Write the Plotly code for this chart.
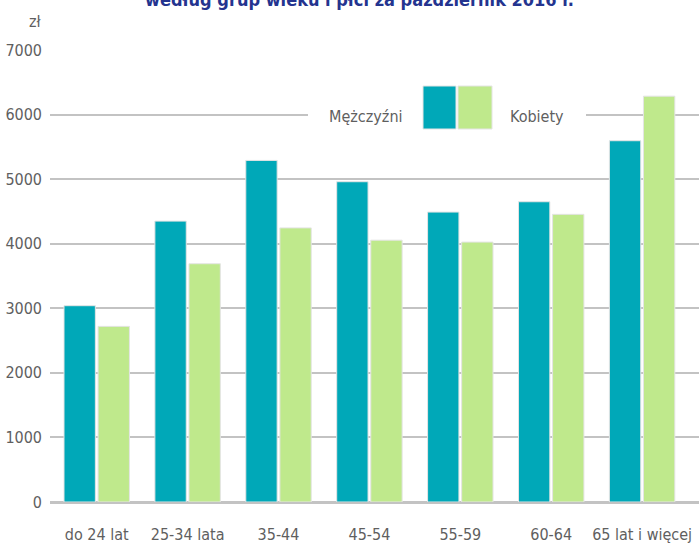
import plotly.graph_objects as go

categories = ["do 24 lat", "25-34 lata", "35-44", "45-54", "55-59", "60-64", "65 lat i więcej"]
series_names = ["Mężczyźni", "Kobiety"]
men = [3040, 4350, 5290, 4960, 4490, 4650, 5595]
women = [2720, 3690, 4245, 4055, 4025, 4455, 6285]
y_ticks = [0, 1000, 2000, 3000, 4000, 5000, 6000, 7000]
title_text = "według grup wieku i płci za październik 2016 r."
unit_text = "zł"

W, H = 699, 545
ML, MR, MT, MB = 50, 0, 50, 43
PW, PH = W - ML - MR, H - MT - MB

def px(x):
    return (x - ML) / PW

def py(y):
    return (H - MB - y) / PH

FONT = "DejaVu Sans Condensed, Liberation Sans Narrow, sans-serif"
GRAY = "#5f5f5f"
TEAL = "#00a8b8"
GREEN = "#bfe98c"
EDGE = "#e4e4e4"
FS = 16

fig = go.Figure()
fig.add_trace(go.Bar(x=categories, y=men, name=series_names[0], marker=dict(color=TEAL, line=dict(color=EDGE, width=1)), showlegend=False))
fig.add_trace(go.Bar(x=categories, y=women, name=series_names[1], marker=dict(color=GREEN, line=dict(color=EDGE, width=1)), showlegend=False))

fig.update_layout(
    width=W, height=H,
    margin=dict(l=ML, r=MR, t=MT, b=MB, pad=0),
    paper_bgcolor="white", plot_bgcolor="white",
    barmode="group", bargap=0.25, bargroupgap=0.08,
    font=dict(family=FONT, size=FS, color=GRAY),
    xaxis=dict(type="category", range=[-0.514, 6.626], showgrid=False, showline=False, automargin=False,
               tickangle=0, ticks="", tickfont=dict(size=FS, color=GRAY), ticklabelstandoff=21, fixedrange=True),
    yaxis=dict(range=[0, 7000], tickvals=y_ticks, ticktext=[str(v) for v in y_ticks], automargin=False,
               showgrid=True, gridcolor="#c3c3c3", gridwidth=2,
               zeroline=True, zerolinecolor="#c3c3c3", zerolinewidth=3,
               showline=False, ticks="", tickfont=dict(size=FS, color=GRAY), ticklabelstandoff=7, fixedrange=True),
)

shapes = [
    dict(type="rect", xref="paper", yref="paper", x0=px(308), x1=px(586), y0=py(128), y1=py(102),
         fillcolor="white", line=dict(width=0), layer="above"),
    dict(type="rect", xref="paper", yref="paper", x0=px(423), x1=px(456), y0=py(129), y1=py(86),
         fillcolor=TEAL, line=dict(color=EDGE, width=1), layer="above"),
    dict(type="rect", xref="paper", yref="paper", x0=px(458), x1=px(492), y0=py(129), y1=py(86),
         fillcolor=GREEN, line=dict(color=EDGE, width=1), layer="above"),
]
fig.update_layout(shapes=shapes)

annotations = [
    dict(text=series_names[0], xref="paper", yref="paper", x=px(405), y=py(117), xanchor="right", yanchor="middle",
         showarrow=False, font=dict(family=FONT, size=FS, color=GRAY)),
    dict(text=series_names[1], xref="paper", yref="paper", x=px(508), y=py(117), xanchor="left", yanchor="middle",
         showarrow=False, font=dict(family=FONT, size=FS, color=GRAY)),
    dict(text=unit_text, xref="paper", yref="paper", x=px(44), y=py(21), xanchor="right", yanchor="middle",
         showarrow=False, font=dict(family=FONT, size=FS, color=GRAY)),
    dict(text="<b>" + title_text + "</b>", xref="paper", yref="paper", x=px(359), y=py(12), xanchor="center", yanchor="bottom",
         showarrow=False, font=dict(family=FONT, size=18, color="#24348f")),
]
fig.update_layout(annotations=annotations)

fig.write_html("out.html", config={"displayModeBar": False},
               post_script="document.body.style.margin='0';document.body.style.overflow='hidden';")
